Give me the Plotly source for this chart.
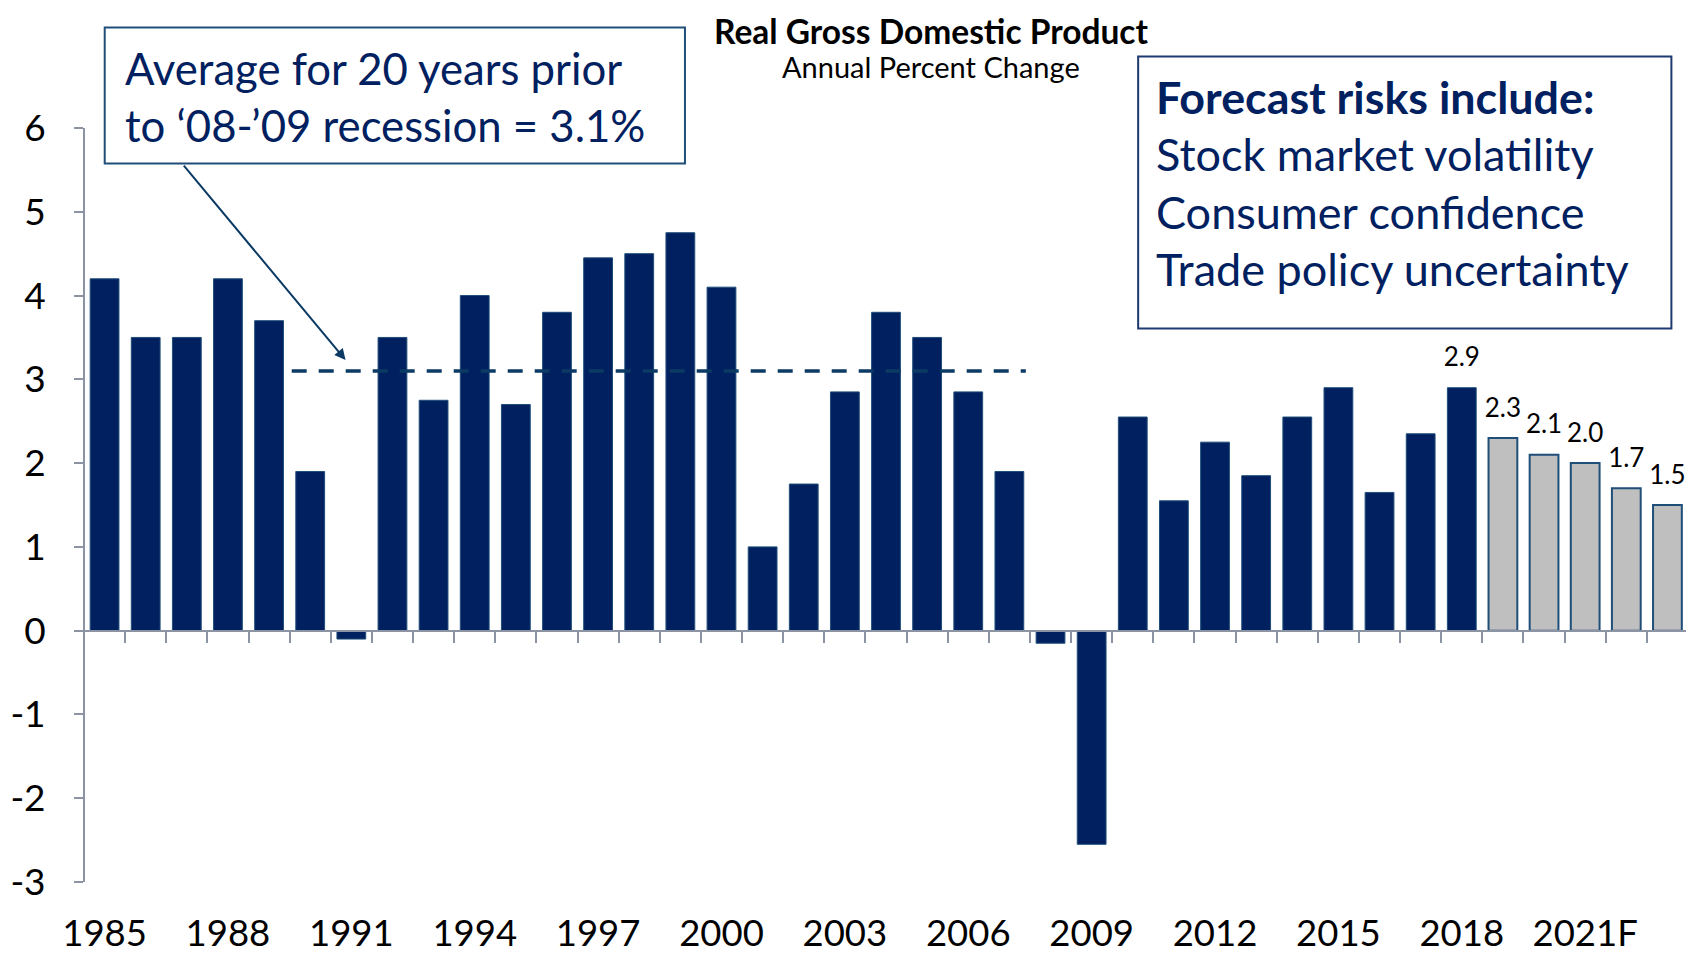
import plotly.graph_objects as go

# ---------------- data ----------------
hist_years = list(range(1985, 2019))
hist_values = [4.2, 3.5, 3.5, 4.2, 3.7, 1.9, -0.1, 3.5, 2.75, 4.0,
               2.7, 3.8, 4.45, 4.5, 4.75, 4.1, 1.0, 1.75, 2.85, 3.8,
               3.5, 2.85, 1.9, -0.15, -2.55, 2.55, 1.55, 2.25, 1.85, 2.55,
               2.9, 1.65, 2.35, 2.9]
fc_years = [2019, 2020, 2021, 2022, 2023]
fc_values = [2.3, 2.1, 2.0, 1.7, 1.5]
label_years = [2018, 2019, 2020, 2021, 2022, 2023]
label_values = [2.9, 2.3, 2.1, 2.0, 1.7, 1.5]
label_text = ["2.9", "2.3", "2.1", "2.0", "1.7", "1.5"]
tick_years = list(range(1985, 2022, 3))
tick_text = [str(y) for y in tick_years[:-1]] + ["2021F"]
y_ticks = [-3, -2, -1, 0, 1, 2, 3, 4, 5, 6]
y_tick_text = ["-3", "-2", "-1", "0", "1", "2", "3", "4", "5", "6"]
avg_value = 3.1
avg_span = [1989.55, 2007.4]
arrow_target = (1990.86, 3.23)

title = "Real Gross Domestic Product"
subtitle = "Annual Percent Change"
left_box_lines = ["Average for 20 years prior", "to \u201808-\u201909 recession = 3.1%"]
right_box_title = "Forecast risks include:"
right_box_lines = ["Stock market volatility", "Consumer confidence", "Trade policy uncertainty"]

# ---------------- layout geometry ----------------
# page body has an 8px margin; figure sized so it ends at the window edge
OFF = 8
W, H = 1694 - OFF, 955 - OFF
PLOT_L, PLOT_R, PLOT_T, PLOT_B = 84.3, 1687.6, 127.5, 881.6   # reference-pixel coords
ML = PLOT_L - OFF
MR = W - (PLOT_R - OFF)
MT = PLOT_T - OFF
MB = H - (PLOT_B - OFF)
PW, PH = W - ML - MR, H - MT - MB


def px(x):
    return (x - OFF - ML) / PW


def py(y):
    return (H - MB - (y - OFF)) / PH


NAVY = "#002060"
AXIS = "#8C93A3"
FONT = "Lato"

fig = go.Figure()

fig.add_trace(go.Bar(
    x=hist_years, y=hist_values, width=0.7,
    marker=dict(color=NAVY, line=dict(color="#1F4E79", width=1)),
    showlegend=False, hoverinfo="x+y",
))
fig.add_trace(go.Bar(
    x=fc_years, y=fc_values, width=0.7,
    marker=dict(color="#BFBFBF", line=dict(color="#1F4E79", width=2)),
    showlegend=False, hoverinfo="x+y",
))
fig.add_trace(go.Scatter(
    x=avg_span, y=[avg_value, avg_value], mode="lines",
    line=dict(color="#0B3A64", width=3.5, dash="15px,12px"),
    showlegend=False, hoverinfo="skip",
))
fig.add_trace(go.Scatter(
    x=label_years, y=label_values, mode="markers+text", text=label_text,
    textposition="top center", marker=dict(size=22, opacity=0),
    textfont=dict(family=FONT, size=26, color="#000000"),
    cliponaxis=False, showlegend=False, hoverinfo="skip",
))
# helper trace for overlay axes (zero-line axis with boundary ticks)
fig.add_trace(go.Scatter(
    x=[hist_years[0]], y=[0], xaxis="x2", yaxis="y2", mode="markers",
    marker=dict(opacity=0), showlegend=False, hoverinfo="skip",
))

xr = [1984.5, 2023.5]
yr = [-3, 6]
boundaries = [y - 0.5 for y in hist_years + fc_years] + [fc_years[-1] + 0.5]

fig.update_layout(
    width=W, height=H,
    margin=dict(l=ML, r=MR, t=MT, b=MB, autoexpand=False),
    paper_bgcolor="white", plot_bgcolor="white",
    barmode="overlay",
    xaxis=dict(range=xr, tickmode="array", tickvals=tick_years, ticktext=tick_text,
               ticks="outside", ticklen=19, tickcolor="rgba(0,0,0,0)",
               showline=False, showgrid=False, zeroline=False,
               tickfont=dict(family=FONT, size=36.5, color="#000000"), automargin=False),
    yaxis=dict(range=yr, tickmode="array", tickvals=y_ticks, ticktext=y_tick_text,
               ticks="outside", ticklen=30, tickcolor="rgba(0,0,0,0)",
               showline=False, showgrid=False, zeroline=False,
               tickfont=dict(family=FONT, size=37, color="#000000"), automargin=False),
    xaxis2=dict(range=xr, overlaying="x", anchor="free", position=(0 - yr[0]) / (yr[1] - yr[0]),
                side="bottom", tickmode="array", tickvals=boundaries, showticklabels=False,
                ticks="outside", ticklen=11, tickwidth=1.5, tickcolor=AXIS,
                showline=True, linecolor=AXIS, linewidth=2,
                showgrid=False, zeroline=False, layer="above traces"),
    yaxis2=dict(range=yr, overlaying="y", anchor="free", position=0, side="left",
                tickmode="array", tickvals=y_ticks, showticklabels=False,
                ticks="outside", ticklen=9, tickwidth=1.5, tickcolor=AXIS,
                showline=True, linecolor=AXIS, linewidth=1.5,
                showgrid=False, zeroline=False),
)

annotations = []
# titles
annotations.append(dict(text="<b>" + title + "</b>", x=px(931), y=py(30), xref="paper", yref="paper",
                        showarrow=False, xanchor="center", yanchor="middle",
                        font=dict(family=FONT, size=33.5, color="#000000")))
annotations.append(dict(text=subtitle, x=px(931), y=py(66), xref="paper", yref="paper",
                        showarrow=False, xanchor="center", yanchor="middle",
                        font=dict(family=FONT, size=29, color="#000000")))
# left box text
for i, line in enumerate(left_box_lines):
    annotations.append(dict(text=line, x=px(123), y=py(67 + 57 * i), xref="paper", yref="paper",
                            showarrow=False, xanchor="left", yanchor="middle",
                            font=dict(family=FONT, size=43.7, color=NAVY)))
# right box text
annotations.append(dict(text="<b>" + right_box_title + "</b>", x=px(1154), y=py(96), xref="paper", yref="paper",
                        showarrow=False, xanchor="left", yanchor="middle",
                        font=dict(family=FONT, size=44.8, color=NAVY)))
for i, line in enumerate(right_box_lines):
    annotations.append(dict(text=line, x=px(1154), y=py(154 + 57.5 * i), xref="paper", yref="paper",
                            showarrow=False, xanchor="left", yanchor="middle",
                            font=dict(family=FONT, size=45, color=NAVY)))
# arrow from the left box to the average line
annotations.append(dict(text="", x=arrow_target[0], y=arrow_target[1], xref="x", yref="y",
                        showarrow=True, arrowhead=2, arrowsize=1.1, arrowwidth=2,
                        arrowcolor="#0B3A64", ax=-163, ay=-196, axref="pixel", ayref="pixel"))
fig.update_layout(annotations=annotations)

fig.update_layout(shapes=[
    dict(type="rect", xref="paper", yref="paper", x0=px(105), x1=px(685), y0=py(163), y1=py(27),
         line=dict(color="#1F4E79", width=2), fillcolor="rgba(0,0,0,0)", layer="above"),
    dict(type="rect", xref="paper", yref="paper", x0=px(1138), x1=px(1671), y0=py(328), y1=py(56),
         line=dict(color="#1F3A70", width=2), fillcolor="rgba(0,0,0,0)", layer="above"),
])

fig.write_html("out.html")
